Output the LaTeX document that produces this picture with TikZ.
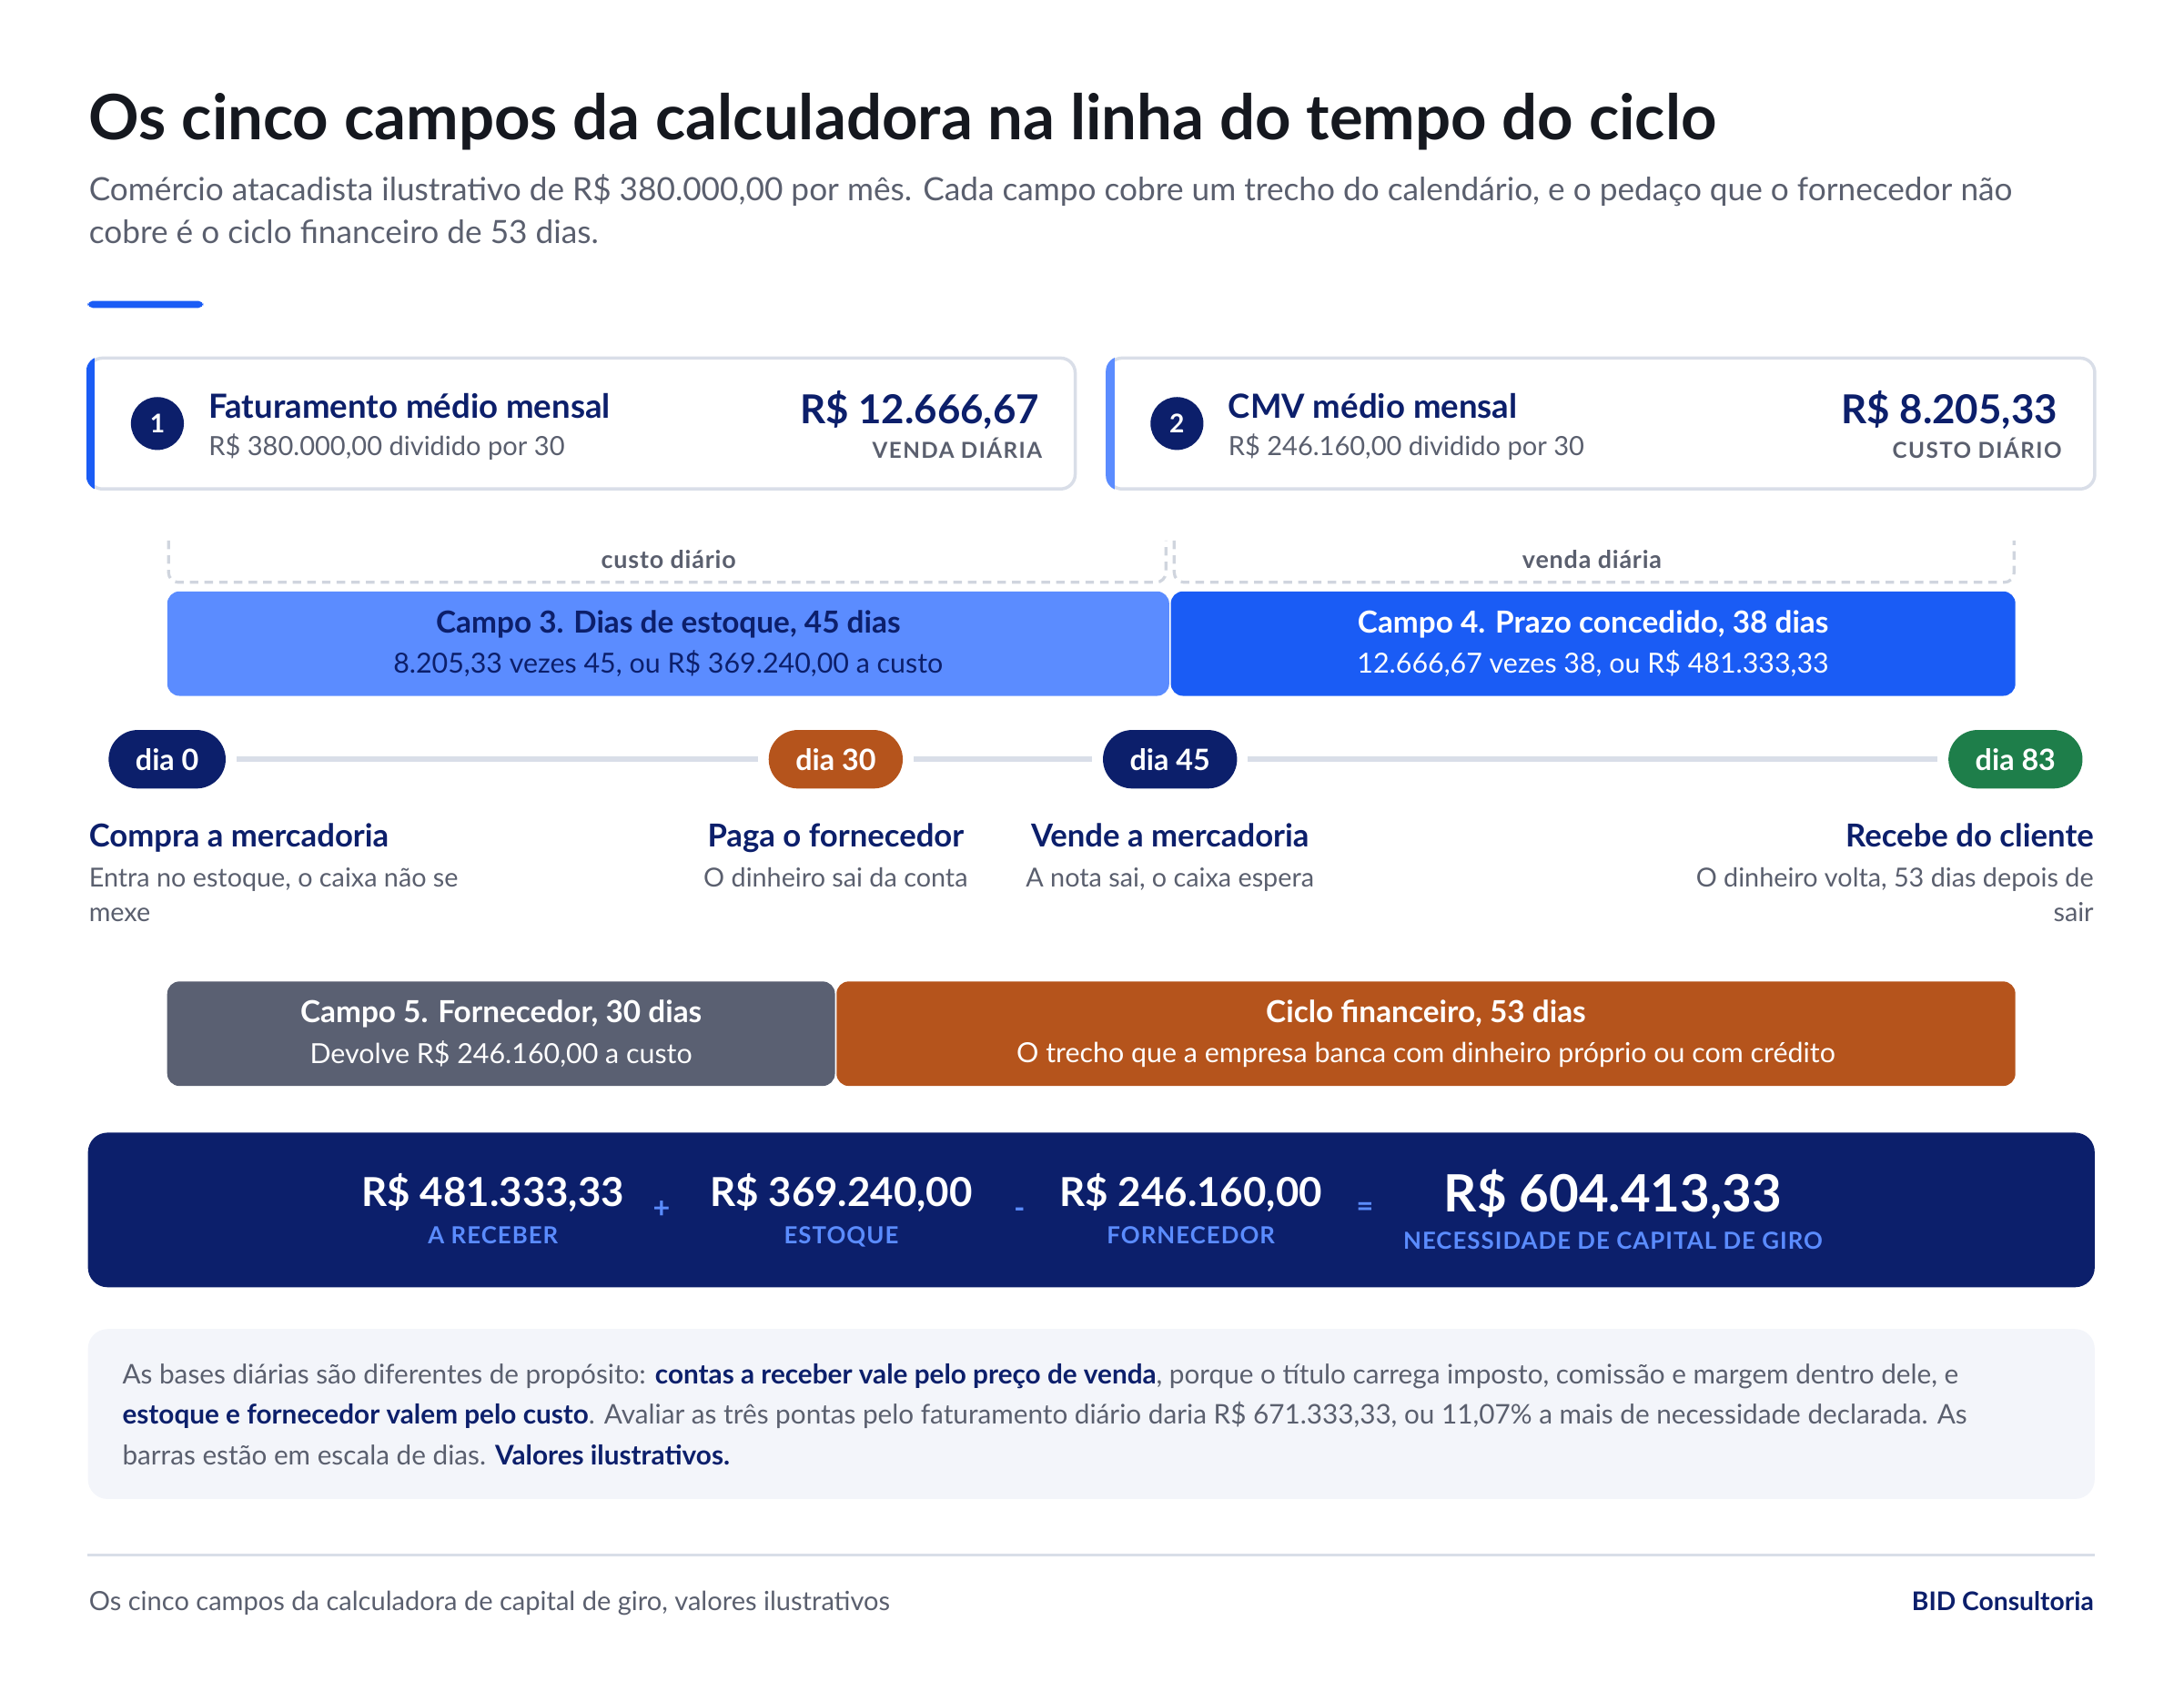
\documentclass[tikz,border=0pt]{standalone}
\usepackage{fontspec}
\setmainfont{Lato}
\usetikzlibrary{positioning, calc}
\definecolor{cink}{HTML}{15181F}
\definecolor{cnavy}{HTML}{0C1F6B}
\definecolor{cgrey}{HTML}{5A5F6E}
\definecolor{cblue}{HTML}{1A5CF5}
\definecolor{cmid}{HTML}{5B8CFF}
\definecolor{corange}{HTML}{B5541C}
\definecolor{cgreen}{HTML}{1E7E4A}
\definecolor{cslate}{HTML}{5A6072}
\definecolor{cline}{HTML}{D9DEE8}
\definecolor{cnote}{HTML}{F3F5FA}
\newcommand{\bartitle}[1]{{\bfseries\fontsize{12.4}{16.5}\selectfont #1}}
\tikzset{
  every picture/.style={line width=1pt},
  card/.style={draw=cline, fill=white, line width=1.3pt, rounded corners=6pt, minimum width=14.18cm, minimum height=1.88cm, inner sep=0pt},
  num/.style={circle, fill=cnavy, text=white, font=\bfseries\fontsize{10.5}{12}\selectfont, minimum size=0.76cm, inner sep=0pt},
  ctitle/.style={anchor=base west, text=cnavy, font=\bfseries\fontsize{13.6}{15}\selectfont, inner sep=0pt},
  csub/.style={anchor=base west, text=cgrey, font=\fontsize{10.8}{13}\selectfont, inner sep=0pt},
  cvalue/.style={anchor=base east, text=cnavy, font=\bfseries\fontsize{16.3}{19}\selectfont, inner sep=0pt},
  clabel/.style={anchor=base east, text=cgrey, font=\bfseries\fontsize{9}{10}\selectfont\addfontfeature{LetterSpace=6}, inner sep=0pt},
  bracket/.style={draw=cline!90!gray, dash pattern=on 3.5pt off 2.5pt, line width=1.2pt, rounded corners=4pt},
  brlabel/.style={anchor=base, text=cgrey, font=\bfseries\fontsize{10}{11}\selectfont\addfontfeature{LetterSpace=3}, inner sep=0pt},
  bar/.style={fill=#1, rounded corners=5pt, minimum height=1.5cm, inner sep=0pt, align=center, text=white, font=\fontsize{11.3}{16.5}\selectfont},
  pill/.style={fill=#1, rounded corners=0.42cm, minimum height=0.84cm, inner xsep=11pt, inner ysep=0pt, text=white, font=\bfseries\fontsize{12}{14}\selectfont},
  tline/.style={draw=cline, line width=2.4pt, shorten <=4pt, shorten >=4pt},
  etitle/.style={text=cnavy, font=\bfseries\fontsize{12.9}{15}\selectfont, inner sep=0pt},
  esub/.style={text=cgrey, font=\fontsize{10.7}{14.2}\selectfont, inner sep=0pt},
  sval/.style={anchor=base, text=white, font=\bfseries\fontsize{16.3}{19}\selectfont, inner sep=0pt},
  sbig/.style={anchor=base, text=white, font=\bfseries\fontsize{21}{24}\selectfont, inner sep=0pt},
  slabel/.style={anchor=base, text=cmid, font=\bfseries\fontsize{9.6}{11}\selectfont\addfontfeature{LetterSpace=4}, inner sep=0pt},
  sop/.style={text=cmid, font=\bfseries\fontsize{12}{14}\selectfont, inner sep=0pt},
}
\begin{document}
\begin{tikzpicture}[x=0.02cm, y=-0.02cm]
  \useasboundingbox (0,0) rectangle (1568,1214);
  \node[anchor=base west, text=cink, font=\bfseries\fontsize{25.6}{30}\selectfont, inner sep=0pt] (title) at (63,100) {Os cinco campos da calculadora na linha do tempo do ciclo};
  \node[anchor=north west, align=left, text=cgrey, font=\fontsize{13.1}{17.6}\selectfont, inner sep=0pt] (sub) at (63,124) {Comércio atacadista ilustrativo de R\$ 380.000,00 por mês. Cada campo cobre um trecho do calendário, e o pedaço que o fornecedor não\\cobre é o ciclo financeiro de 53 dias.};
  \fill[cblue, rounded corners=2pt] (63,216) rectangle (146,221);

  \node[card] (c1) at (417.5,304) {};
  \begin{scope}
    \clip[rounded corners=6pt] (c1.south west) rectangle (c1.north east);
    \fill[cblue] (c1.south west) rectangle ([xshift=3.5pt]c1.north west);
  \end{scope}
  \node[num] (n1) at (113,304) {1};
  \node[ctitle] (t1) at (149,300) {Faturamento médio mensal};
  \node[csub] (s1) at (149,327) {R\$ 380.000,00 dividido por 30};
  \node[cvalue] (v1) at (747,304) {R\$ 12.666,67};
  \node[clabel] (l1) at (749,329) {VENDA DIÁRIA};

  \node[card] (c2) at (1149.5,304) {};
  \begin{scope}
    \clip[rounded corners=6pt] (c2.south west) rectangle (c2.north east);
    \fill[cmid] (c2.south west) rectangle ([xshift=3.5pt]c2.north west);
  \end{scope}
  \node[num] (n2) at (845,304) {2};
  \node[ctitle] (t2) at (881,300) {CMV médio mensal};
  \node[csub] (s2) at (881,327) {R\$ 246.160,00 dividido por 30};
  \node[cvalue] (v2) at (1478,304) {R\$ 8.205,33};
  \node[clabel] (l2) at (1481,329) {CUSTO DIÁRIO};

  \draw[bracket] (121,388) -- (121,418) -- (837,418) -- (837,388);
  \draw[bracket] (843,388) -- (843,418) -- (1446,418) -- (1446,388);
  \node[brlabel] (bl3) at (480,408) {custo diário};
  \node[brlabel] (bl4) at (1143,408) {venda diária};

  \node[bar=cmid, text=cnavy, minimum width=14.39cm] (b3) at (479.75,462) {\bartitle{Campo 3. Dias de estoque, 45 dias}\\8.205,33 vezes 45, ou R\$ 369.240,00 a custo};
  \node[bar=cblue, minimum width=12.13cm] (b4) at (1143.75,462) {\bartitle{Campo 4. Prazo concedido, 38 dias}\\12.666,67 vezes 38, ou R\$ 481.333,33};
  \fill[white] (839.5,423) rectangle (840.5,498);

  \node[pill=cnavy] (d0) at (120,545) {dia 0};
  \node[pill=corange] (d30) at (600,545) {dia 30};
  \node[pill=cnavy] (d45) at (840,545) {dia 45};
  \node[pill=cgreen] (d83) at (1447,545) {dia 83};
  \draw[tline] (d0) -- (d30);
  \draw[tline] (d30) -- (d45);
  \draw[tline] (d45) -- (d83);

  \node[etitle, anchor=base west] (e0) at (63,608) {Compra a mercadoria};
  \node[esub, anchor=north west, align=left] (e0s) at (63,622) {Entra no estoque, o caixa não se\\mexe};
  \node[etitle, anchor=base] (e30) at (600,608) {Paga o fornecedor};
  \node[esub, anchor=north] (e30s) at (600,622) {O dinheiro sai da conta};
  \node[etitle, anchor=base] (e45) at (840,608) {Vende a mercadoria};
  \node[esub, anchor=north] (e45s) at (840,622) {A nota sai, o caixa espera};
  \node[etitle, anchor=base east] (e83) at (1504,608) {Recebe do cliente};
  \node[esub, anchor=north east, align=right] (e83s) at (1504,622) {O dinheiro volta, 53 dias depois de\\sair};

  \node[bar=cslate, minimum width=9.59cm] (b5) at (359.75,742) {\bartitle{Campo 5. Fornecedor, 30 dias}\\Devolve R\$ 246.160,00 a custo};
  \node[bar=corange, minimum width=16.93cm] (cf) at (1023.75,742) {\bartitle{Ciclo financeiro, 53 dias}\\O trecho que a empresa banca com dinheiro próprio ou com crédito};

  \node[fill=cnavy, rounded corners=8pt, minimum width=28.82cm, minimum height=2.22cm, inner sep=0pt] (band) at (783.5,868.5) {};
  \node[sval] (ar) at (354,866) {R\$ 481.333,33};
  \node[slabel] (arl) at (354,893) {A RECEBER};
  \node[sop] (plus) at (475,868) {+};
  \node[sval] (es) at (604,866) {R\$ 369.240,00};
  \node[slabel] (esl) at (604,893) {ESTOQUE};
  \node[sop] (minus) at (732,871) {-};
  \node[sval] (fo) at (855,866) {R\$ 246.160,00};
  \node[slabel] (fol) at (855,893) {FORNECEDOR};
  \node[sop] (eq) at (980,868) {=};
  \node[sbig] (ncg) at (1158,870) {R\$ 604.413,33};
  \node[slabel] (ncgl) at (1158,897) {NECESSIDADE DE CAPITAL DE GIRO};

  \node[fill=cnote, rounded corners=8pt, minimum width=28.82cm, minimum height=2.44cm, inner sep=0pt] (nb) at (783.5,1015) {};
  \node[anchor=north west, align=left, text=cgrey, font=\fontsize{11.05}{16.5}\selectfont, inner sep=0pt] (nt) at (87,978) {As bases diárias são diferentes de propósito: \textcolor{cnavy}{\bfseries contas a receber vale pelo preço de venda}, porque o título carrega imposto, comissão e margem dentro dele, e\\\textcolor{cnavy}{\bfseries estoque e fornecedor valem pelo custo}. Avaliar as três pontas pelo faturamento diário daria R\$ 671.333,33, ou 11,07\% a mais de necessidade declarada. As\\barras estão em escala de dias. \textcolor{cnavy}{\bfseries Valores ilustrativos.}};

  \draw[cline, line width=1.2pt] (63,1116) -- (1504,1116);
  \node[anchor=base west, text=cgrey, font=\fontsize{10.8}{12}\selectfont, inner sep=0pt] (foot) at (63,1156) {Os cinco campos da calculadora de capital de giro, valores ilustrativos};
  \node[anchor=base east, text=cnavy, font=\bfseries\fontsize{10.5}{12}\selectfont, inner sep=0pt] (brand) at (1504,1156) {BID Consultoria};
\end{tikzpicture}
\end{document}
